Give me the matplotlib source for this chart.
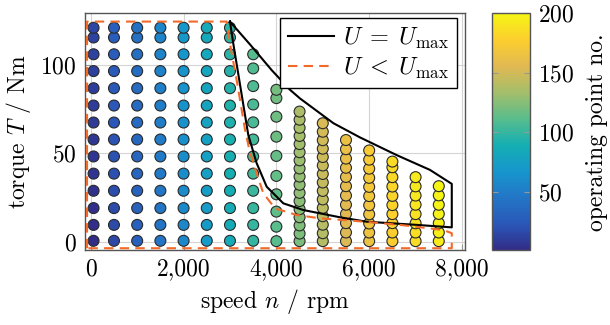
import numpy as np
import matplotlib
matplotlib.use("Agg")
import matplotlib.pyplot as plt
from matplotlib.colors import LinearSegmentedColormap
from matplotlib.ticker import FuncFormatter

plt.rcParams.update({
    "font.family": "serif",
    "font.serif": ["cmr10"],
    "mathtext.fontset": "cm",
    "axes.unicode_minus": False,
    "axes.formatter.use_mathtext": True,
    "font.size": 17,
})

# operating points: speed columns (rpm) and torque values (Nm) read per column
speeds = [60, 500, 1000, 1500, 2000, 2500, 3000, 3500,
          4000, 4500, 5000, 5500, 6000, 6500, 7000, 7500]
torque_low = [0.5, 9.5, 19, 28.8, 38.5, 48.2, 57.8, 67.4, 77, 86.8, 96.5, 106, 115.5, 121]
torque_3500 = [0.5, 9.5, 19, 28.8, 38.5, 48.2, 57.8, 67.5, 77.6, 88, 98, 106]
torque_4000 = [0.3, 8.5, 17, 26.8, 37.2, 48.5, 59.4, 70.7, 81.2, 85.9]
torque_4500 = [0.3, 4.6, 9.2, 13.8, 18.4, 23, 27.6, 32.2, 36.8, 41.4, 46, 50.6,
               55.2, 59.8, 64.4, 69, 73.6]
torque_5000 = [0.3, 4.8, 9.6, 14.4, 19.1, 23.9, 28.7, 33.5, 38.3, 43.1, 47.9,
               52.6, 57.4, 62.2, 67]
torque_5500 = [0.3, 5.2, 10.5, 15.7, 20.9, 26.1, 31.4, 36.6, 41.8, 47, 52.3, 57.5]
torque_6000 = [0.3, 5.2, 10.3, 15.5, 20.6, 25.8, 31, 36.1, 41.3, 46.4, 51.6]
torque_6500 = [0.3, 5.2, 10.5, 15.6, 20.7, 25.9, 31.2, 36.5, 42.1, 45.3]
torque_7000 = [0.3, 5.2, 10.4, 15.6, 20.9, 26.1, 31.3, 36.5]
torque_7500 = [0.3, 5.2, 10.5, 15.7, 20.9, 26.2, 31.4]
columns = [torque_low] * 7 + [torque_3500, torque_4000, torque_4500, torque_5000,
                              torque_5500, torque_6000, torque_6500, torque_7000,
                              torque_7500]

# boundary U = Umax (closed)
umax_n = [3000, 3450, 3900, 4290, 4510, 5230, 5800, 6590, 7310, 7780,
          7780, 7024, 5946, 5371, 4580, 4149, 3791, 3575, 3394, 3070, 3000]
umax_t = [124.5, 111, 97, 86, 81, 67, 59, 49, 40.6, 32.7,
          8.1, 9.5, 11.3, 13.8, 17.9, 21.7, 31.1, 44.4, 60.4, 112.3, 124.5]
# boundary U < Umax (closed)
ulow_n = [-80, -80, 2930, 3000, 3160, 3320, 3400, 3502, 3718, 3970, 4437,
          4940, 5586, 6664, 7597, 7780, 7780, -80]
ulow_t = [-3.7, 124.5, 124.5, 112, 89, 64, 54, 44.4, 27.4, 18.9, 15.1,
          13.2, 12, 9.5, 6.6, 4.8, -3.7, -3.7]

# parula-like colours as they appear in the figure
parula_rgb = [(50, 44, 135), (42, 88, 185), (35, 118, 198), (22, 150, 205),
              (21, 175, 178), (89, 189, 140), (165, 190, 107), (225, 185, 82),
              (252, 206, 46), (245, 245, 20)]
parula = LinearSegmentedColormap.from_list(
    "parula", [tuple(v / 255 for v in c) for c in parula_rgb])

n_pts, t_pts = [], []
for n, col in zip(speeds, columns):
    for t in col:
        n_pts.append(n)
        t_pts.append(t)
idx = np.arange(1, len(n_pts) + 1)

fig = plt.figure(figsize=(6.1, 3.25), dpi=100)
ax = fig.add_axes([0.1393, 0.2308, 0.623, 0.730])
cax = fig.add_axes([0.806, 0.2308, 0.0628, 0.728])

ax.grid(True, color="#d4d4d4", lw=0.8, zorder=0)
ax.set_axisbelow(True)
sc = ax.scatter(n_pts, t_pts, c=idx, cmap=parula, vmin=1, vmax=200, s=62,
                edgecolors="#2a2a2a", linewidths=0.8, zorder=2)
ax.plot(umax_n, umax_t, color="black", lw=1.5, zorder=3,
        label=r"$U\;=\;U_\mathrm{max}$")
ax.plot(ulow_n, ulow_t, color="#f26a2a", lw=1.5, ls=(0, (4.5, 3)), zorder=3,
        label=r"$U\;<\;U_\mathrm{max}$")

ax.set_xlim(-125, 8065)
ax.set_ylim(-4.7, 129.5)
ax.set_xticks([0, 2000, 4000, 6000, 8000])
ax.set_yticks([0, 50, 100])
ax.xaxis.set_major_formatter(FuncFormatter(lambda x, p: f"{x:,.0f}"))
ax.tick_params(direction="in", length=4, color="#999999", pad=6)
ax.set_xlabel(r"speed $n$ / rpm", labelpad=5)
ax.set_ylabel(r"torque $T$ / Nm", labelpad=5)
for s in ax.spines.values():
    s.set_color("#555555")
    s.set_linewidth(1.0)

leg = ax.legend(loc="upper right", bbox_to_anchor=(0.978, 0.976), borderaxespad=0,
                fancybox=False, edgecolor="black", framealpha=1, handlelength=1.9,
                handletextpad=0.4, borderpad=0.3, labelspacing=0.2, fontsize=17.5)
leg.get_frame().set_linewidth(1.0)
leg.set_zorder(5)

cb = fig.colorbar(sc, cax=cax, ticks=[50, 100, 150, 200])
cb.outline.set_edgecolor("#555555")
cb.outline.set_linewidth(1.0)
cax.tick_params(direction="in", length=4, color="#999999", left=True, right=True, pad=6)
cb.set_label("operating point no.", labelpad=8)

fig.savefig("out.png", dpi=100)
